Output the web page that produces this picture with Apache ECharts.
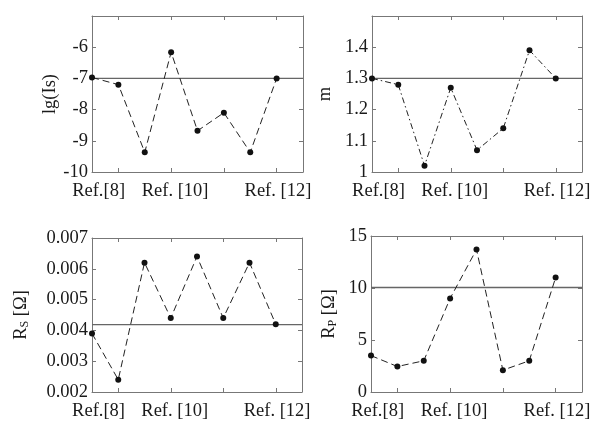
<!DOCTYPE html>
<html>
<head>
<meta charset="utf-8">
<script src="https://cdn.jsdelivr.net/npm/echarts@6/dist/echarts.min.js"></script>
<style>html,body{margin:0;padding:0;background:#fff;}#c{width:595px;height:421px;}</style>
</head>
<body>
<div id="c"></div>
<script>
// ---- data ----
const xPositions = [0, 1, 2, 3, 4, 5, 6, 7];
const xTickLabels = ['Ref.[8]', 'Ref. [10]', 'Ref. [12]'];
const lgIs = [-6.97, -7.2, -9.37, -6.16, -8.68, -8.1, -9.37, -7.0];
const mVals = [1.30, 1.28, 1.02, 1.27, 1.07, 1.14, 1.39, 1.30];
const rsVals = [0.0039, 0.0024, 0.0062, 0.0044, 0.0064, 0.0044, 0.0062, 0.0042];
const rpVals = [3.5, 2.45, 3.0, 9.0, 13.7, 2.1, 3.0, 11.0];
const refLines = [-7.0, 1.30, 0.00419, 10.05];
const refSpan = [0, 8];

// ---- layout / style ----
const FONT = 'Liberation Serif';
const TXT = '#1a1a1a';
const FRAME = '#777';
const labelPos = [0.25, 3.15, 7.05];
const tickPos = [1, 3, 5, 7];

const panels = [
  {left: 92, top: 16, width: 211, height: 156, min: -10, max: -5, interval: 1, showMax: false,
   name: 'lg(Is)', nameGap: 31, data: lgIs, ref: refLines[0], dash: [7, 4], fmt: v => String(v)},
  {left: 372, top: 16, width: 210, height: 156, min: 1.0, max: 1.5, interval: 0.1, showMax: false,
   name: 'm', nameGap: 37, data: mVals, ref: refLines[1], dash: [6, 3, 1.5, 3],
   fmt: v => (Math.abs(v - 1) < 1e-9 ? '1' : v.toFixed(1))},
  {left: 92, top: 238, width: 210, height: 155, min: 0.002, max: 0.007, interval: 0.001, showMax: true,
   name: '{r|R}{s|S} {r|[Ω]}', nameGap: 61, data: rsVals, ref: refLines[2], dash: [7, 4],
   fmt: v => v.toFixed(3)},
  {left: 371, top: 236, width: 211, height: 157, min: 0, max: 15, interval: 5, showMax: true,
   name: '{r|R}{s|P} {r|[Ω]}', nameGap: 32, data: rpVals, ref: refLines[3], dash: [7, 4],
   fmt: v => String(Math.round(v))}
];

const grid = [], xAxis = [], yAxis = [], series = [];
panels.forEach((p, i) => {
  grid.push({left: p.left, top: p.top, width: p.width, height: p.height, containLabel: false});
  const axLine = {show: true, onZero: false, lineStyle: {color: FRAME, width: 1}};
  const tick = {show: true, inside: true, length: 4, lineStyle: {color: FRAME, width: 1}};
  xAxis.push({
    type: 'value', gridIndex: i, min: 0, max: 8, position: 'bottom',
    axisLine: axLine, splitLine: {show: false},
    axisTick: Object.assign({customValues: tickPos}, tick),
    axisLabel: {customValues: labelPos, margin: 10, fontFamily: FONT, fontSize: 18.5, color: TXT,
      formatter: v => xTickLabels[labelPos.indexOf(v)] || ''}
  });
  xAxis.push({
    type: 'value', gridIndex: i, min: 0, max: 8, position: 'top',
    axisLine: axLine, splitLine: {show: false},
    axisTick: Object.assign({customValues: tickPos}, tick),
    axisLabel: {show: false}
  });
  yAxis.push({
    type: 'value', gridIndex: i, min: p.min, max: p.max, interval: p.interval, position: 'left',
    axisLine: axLine, splitLine: {show: false}, axisTick: tick,
    axisLabel: {margin: 4, fontFamily: FONT, fontSize: 18.5, color: TXT, showMaxLabel: p.showMax,
      formatter: p.fmt},
    name: p.name, nameLocation: 'middle', nameGap: p.nameGap, nameRotate: 90,
    nameTextStyle: {fontFamily: FONT, fontSize: 18.5, color: TXT,
      rich: {r: {fontFamily: FONT, fontSize: 18.5, color: TXT},
             s: {fontFamily: FONT, fontSize: 12, color: TXT, padding: [6, 0, 0, 0]}}}
  });
  yAxis.push({
    type: 'value', gridIndex: i, min: p.min, max: p.max, interval: p.interval, position: 'right',
    axisLine: axLine, splitLine: {show: false}, axisTick: tick, axisLabel: {show: false}
  });
  series.push({
    type: 'line', xAxisIndex: 2 * i, yAxisIndex: 2 * i,
    data: refSpan.map(x => [x, p.ref]),
    symbol: 'none', silent: true,
    lineStyle: {color: '#666', width: 1.3, type: 'solid'},
    animation: false, z: 2
  });
  series.push({
    type: 'line', xAxisIndex: 2 * i, yAxisIndex: 2 * i,
    data: p.data.map((v, k) => [xPositions[k], v]),
    symbol: 'circle', symbolSize: 6, showSymbol: true,
    itemStyle: {color: '#111'},
    lineStyle: {color: '#222', width: 1, type: p.dash},
    animation: false, z: 3
  });
});

const chart = echarts.init(document.getElementById('c'), null, {renderer: 'canvas'});
chart.setOption({animation: false, backgroundColor: '#fff', grid, xAxis, yAxis, series});
</script>
</body>
</html>
